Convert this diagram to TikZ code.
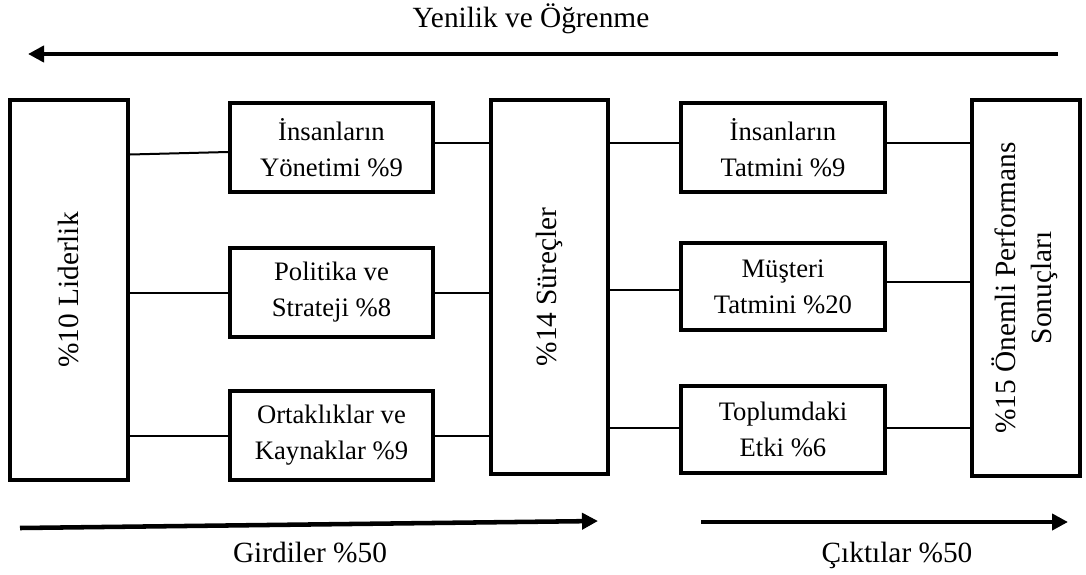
\documentclass[tikz,border=0pt]{standalone}
\usepackage{fontspec}
\setmainfont{Liberation Serif}
\usepackage{graphicx}
\usetikzlibrary{arrows.meta,calc}
\begin{document}
\begin{tikzpicture}[x=0.75pt,y=-0.75pt,
  txt/.style={font=\fontsize{20}{27}\selectfont},
  bigtxt/.style={font=\fontsize{22}{27}\selectfont},
  bigbox/.style={draw,line width=3pt,bigtxt,inner sep=0pt},
  smallbox/.style={draw,line width=3pt,txt,align=center,
    minimum width=152.25pt,minimum height=66.75pt,inner sep=0pt},
  conn/.style={line width=1.5pt},
  flow/.style={line width=3.4pt,-{Triangle[length=12pt,width=12pt]}}]
\useasboundingbox (0,0) rectangle (1086,575);

% main columns
\node[bigbox,minimum width=88.5pt,minimum height=285pt] (lid) at (69,290)
  {\rotatebox{90}{\%10 Liderlik}};
\node[bigbox,minimum width=87.75pt,minimum height=280.5pt] (sur) at (549.5,287)
  {\rotatebox{90}{\%14 Süreçler}};
\node[bigbox,minimum width=81pt,minimum height=282pt] (sonuc) at (1026,288)
  {\rotatebox{90}{\begin{tabular}{@{}c@{}}\%15 Önemli Performans\\Sonuçları\end{tabular}}};

% enablers
\node[smallbox] (l1) at (331.5,147.5) {İnsanların\\Yönetimi \%9};
\node[smallbox] (l2) at (331.5,292.5) {Politika ve\\Strateji \%8};
\node[smallbox] (l3) at (331.5,435.5) {Ortaklıklar ve\\Kaynaklar \%9};

% results
\node[smallbox,minimum width=153pt] (r1) at (783,147.5) {İnsanların\\Tatmini \%9};
\node[smallbox,minimum width=153pt,minimum height=65.25pt] (r2) at (783,286.5) {Müşteri\\Tatmini \%20};
\node[smallbox,minimum width=153pt,minimum height=65.25pt] (r3) at (783,429.5) {Toplumdaki\\Etki \%6};

% connectors
\draw[conn] ($(lid.east |- l1.west)+(0,7)$) -- ($(l1.west)+(0,4.5)$);
\draw[conn] (lid.east |- l2.west) -- (l2.west);
\draw[conn] (lid.east |- l3.west) -- (l3.west);
\draw[conn] ($(l1.east)+(0,-4.5)$) -- ($(sur.west |- l1.east)+(0,-4.5)$);
\draw[conn] (l2.east) -- (sur.west |- l2.east);
\draw[conn] (l3.east) -- (sur.west |- l3.east);
\draw[conn] ($(sur.east |- r1.west)+(0,-4.5)$) -- ($(r1.west)+(0,-4.5)$);
\draw[conn] ($(sur.east |- r2.west)+(0,3.5)$) -- ($(r2.west)+(0,3.5)$);
\draw[conn] ($(sur.east |- r3.west)+(0,-1.5)$) -- ($(r3.west)+(0,-1.5)$);
\draw[conn] ($(r1.east)+(0,-4.5)$) -- ($(sonuc.west |- r1.east)+(0,-4.5)$);
\draw[conn] ($(r2.east)+(0,-4.5)$) -- ($(sonuc.west |- r2.east)+(0,-4.5)$);
\draw[conn] ($(r3.east)+(0,-1.5)$) -- ($(sonuc.west |- r3.east)+(0,-1.5)$);

% flow arrows
\node[bigtxt,anchor=base] (title) at (531,27) {Yenilik ve Öğrenme};
\coordinate (topR) at (1058,54);
\coordinate (topL) at (28,54);
\draw[flow] (topR) -- (topL);

\coordinate (inL) at (20,528);
\coordinate (inR) at (598,521);
\draw[flow] (inL) -- (inR);
\node[bigtxt,anchor=base] (inlbl) at (310,562) {Girdiler \%50};

\coordinate (outL) at (701,522);
\coordinate (outR) at (1068,522);
\draw[flow] (outL) -- (outR);
\node[bigtxt,anchor=base] (outlbl) at (897,562) {Çıktılar \%50};
\end{tikzpicture}
\end{document}
